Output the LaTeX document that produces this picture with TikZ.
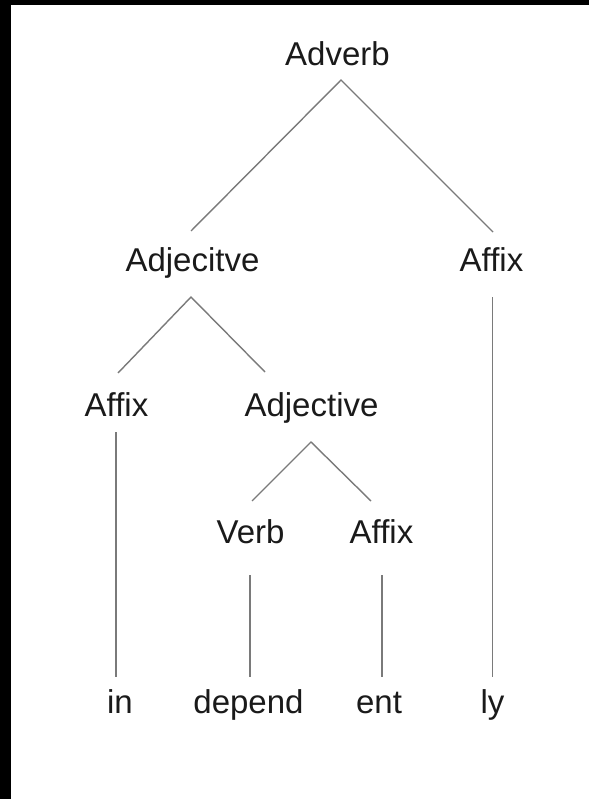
\documentclass[tikz,border=0pt]{standalone}
\usepackage{fontspec}
\setmainfont{Liberation Sans}
\usetikzlibrary{calc}
\definecolor{txt}{HTML}{1A1A1A}
\definecolor{edgegray}{HTML}{7A7A7A}
\begin{document}
\begin{tikzpicture}[x=1pt,y=-1pt,
  lbl/.style={anchor=base,inner sep=0pt,text=txt,font=\fontsize{33}{39}\selectfont},
  edge/.style={draw=edgegray,line width=1.4pt}]
\useasboundingbox (0,0) rectangle (589,799);
\fill[white] (0,0) rectangle (589,799);
\fill[black] (0,0) rectangle (11,799);
\fill[black] (0,0) rectangle (589,5);
% nodes
\node[lbl] (adverb) at (337.5,66) {Adverb};
\node[lbl] (adjecitve) at (192.5,271) {Adjecitve};
\node[lbl] (affixR) at (491.5,271) {Affix};
\node[lbl] (affixL) at (116.5,416) {Affix};
\node[lbl] (adjective) at (311.5,416) {Adjective};
\node[lbl] (verb) at (250.5,543) {Verb};
\node[lbl] (affixM) at (381.5,543) {Affix};
\node[lbl] (in) at (120,713) {in};
\node[lbl] (depend) at (248.5,713) {depend};
\node[lbl] (ent) at (379,713) {ent};
\node[lbl] (ly) at (492.5,713) {ly};
% connectors
\draw[edge] ($(adjecitve.base)+(-1.5,-40)$) -- ($(adverb.base)+(3.5,14)$) -- ($(affixR.base)+(1.5,-39)$);
\draw[edge] ($(affixL.base)+(1.5,-43)$) -- ($(adjecitve.base)+(-1.5,26)$) -- ($(adjective.base)+(-46.5,-44)$);
\draw[edge] ($(verb.base)+(1.5,-42)$) -- ($(adjective.base)+(-0.5,26)$) -- ($(affixM.base)+(-10.5,-42)$);
\draw[edge] ($(affixR.base)+(1,26)$) -- ($(ly.base)+(0,-36)$);
\draw[edge] ($(affixL.base)+(-0.5,16)$) -- ($(in.base)+(-4,-36)$);
\draw[edge] ($(verb.base)+(-0.5,32)$) -- ($(depend.base)+(1.5,-36)$);
\draw[edge] ($(affixM.base)+(0.5,32)$) -- ($(ent.base)+(3,-36)$);
\end{tikzpicture}
\end{document}
